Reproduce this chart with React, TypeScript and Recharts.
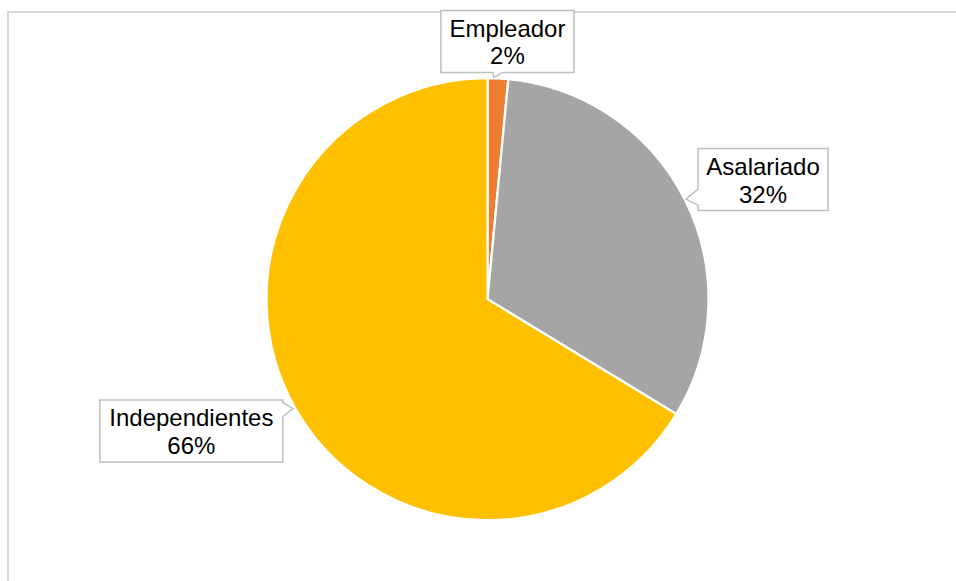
import React from "react";
import { PieChart, Pie, Cell } from "recharts";

const categories = ["Empleador", "Asalariado", "Independientes"];
const shares = [1.5, 32.2, 66.3];
const colors = ["#ED7D31", "#A5A5A5", "#FFC000"];

const data = categories.map((name, i) => ({ name, value: shares[i] }));
const total = shares.reduce((a, b) => a + b, 0);

// callout layout (style only)
const boxWidths = [133, 130, 183];
const boxHeight = 62;
const placements = ["top", "right", "left"];

const RAD = Math.PI / 180;

function renderLabel(props: any) {
  const { cx, cy, midAngle, outerRadius, index, name, value } = props;
  const tx = cx + outerRadius * Math.cos(-midAngle * RAD);
  const ty = cy + outerRadius * Math.sin(-midAngle * RAD);
  const w = boxWidths[index];
  const h = boxHeight;
  const place = placements[index];
  let x0 = 0, y0 = 0;
  let path = "";
  if (place === "top") {
    const centerX = tx + 9.5;
    x0 = centerX - w / 2;
    y0 = ty - 6 - h;
    const by = y0 + h;
    const bx = Math.max(x0 + 4, Math.min(x0 + w - 14, tx - 5));
    path = `M${x0},${y0} L${x0 + w},${y0} L${x0 + w},${by} L${bx + 10},${by} L${tx - 4},${ty - 1} L${bx},${by} L${x0},${by} Z`;
  } else if (place === "right") {
    x0 = tx + 13;
    const cyBox = ty - 20.5;
    y0 = cyBox - h / 2;
    const b1 = ty - 11;
    const b2 = ty + 5;
    path = `M${x0},${y0} L${x0 + w},${y0} L${x0 + w},${y0 + h} L${x0},${y0 + h} L${x0},${b2} L${tx + 1},${ty - 1} L${x0},${b1} Z`;
  } else {
    x0 = tx - 12 - w;
    const cyBox = ty + 23.5;
    y0 = cyBox - h / 2;
    const xr = x0 + w;
    const b1 = ty - 5;
    const b2 = ty + 9;
    path = `M${x0},${y0} L${xr},${y0} L${xr},${b1} L${tx - 2},${ty + 1} L${xr},${b2} L${xr},${y0 + h} L${x0},${y0 + h} Z`;
  }
  const centerX = x0 + w / 2;
  const centerY = y0 + h / 2;
  const pct = Math.round((value / total) * 100 + 1e-9);
  return (
    <g key={`lbl-${index}`}>
      <path d={path} fill="#FFFFFF" stroke="#BFBFBF" strokeWidth={1.5} />
      <text
        x={centerX}
        y={centerY - 4.5}
        textAnchor="middle"
        fontFamily="'Liberation Sans', Arial, sans-serif"
        fontSize={24}
        fill="#000000"
      >
        {name}
      </text>
      <text
        x={centerX}
        y={centerY + 23}
        textAnchor="middle"
        fontFamily="'Liberation Sans', Arial, sans-serif"
        fontSize={24}
        fill="#000000"
      >
        {`${pct}%`}
      </text>
    </g>
  );
}

export default function App() {
  return (
    <div
      style={{
        position: "absolute",
        left: 0,
        top: 0,
        width: 956,
        height: 581,
        overflow: "hidden",
        background: "#FFFFFF",
      }}
    >
      <PieChart
        width={956}
        height={581}
        margin={{ top: 0, right: 0, bottom: 0, left: 0 }}
      >
        <rect
          x={8}
          y={12}
          width={2000}
          height={2000}
          fill="none"
          stroke="#D9D9D9"
          strokeWidth={2}
        />
        <Pie
          data={data}
          dataKey="value"
          nameKey="name"
          cx={487.5}
          cy={299.2}
          outerRadius={221}
          startAngle={90}
          endAngle={-270}
          stroke="#FFFFFF"
          strokeWidth={2.25}
          label={renderLabel}
          labelLine={false}
          isAnimationActive={false}
        >
          {data.map((d, i) => (
            <Cell key={d.name} fill={colors[i]} />
          ))}
        </Pie>
      </PieChart>
    </div>
  );
}
